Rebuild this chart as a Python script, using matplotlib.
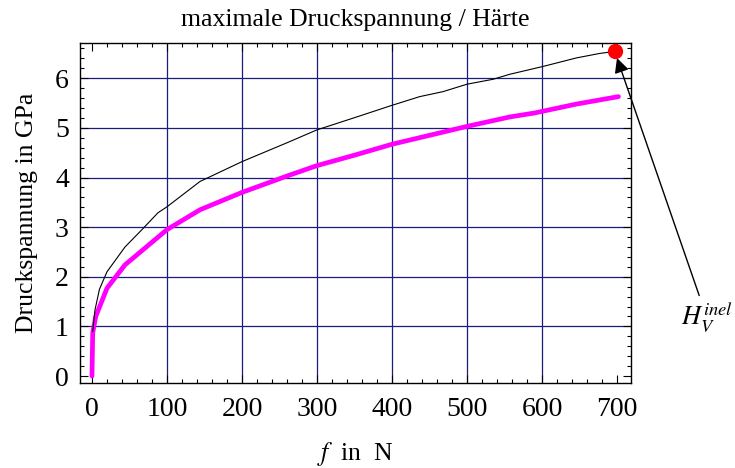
import matplotlib
matplotlib.use("Agg")
import matplotlib.pyplot as plt
from matplotlib.ticker import MultipleLocator

plt.rcParams['font.family'] = ['Liberation Serif', 'DejaVu Serif']
plt.rcParams['mathtext.fontset'] = 'stix'

# Daten
f_hart = [1, 4, 10, 20, 44, 66, 88, 100, 144, 200, 260, 300, 357, 397, 437,
          468, 500, 535, 557, 602, 646, 677, 697]
p_hart = [0.9, 1.33, 1.75, 2.1, 2.6, 2.94, 3.29, 3.41, 3.92, 4.32, 4.70, 4.96,
          5.24, 5.44, 5.63, 5.73, 5.88, 5.98, 6.08, 6.24, 6.41, 6.50, 6.54]

f_druck = [0, 1, 5, 20, 44, 100, 144, 200, 260, 300, 350, 400, 450, 500, 557,
           590, 646, 702]
p_druck = [0.0, 0.87, 1.2, 1.77, 2.24, 2.95, 3.35, 3.70, 4.03, 4.24, 4.45, 4.67,
           4.85, 5.03, 5.22, 5.30, 5.48, 5.63]

hv_f, hv_p = 697, 6.54
label_pos = (820, 1.17)

fig = plt.figure(figsize=(7.35, 4.68), dpi=100)
ax = fig.add_axes([0.1088, 0.1816, 0.7497, 0.7265])

grid_col = '#1c1c80'
for x in range(100, 700, 100):
    ax.axvline(x, color=grid_col, lw=0.9, zorder=1)
for y in range(1, 7):
    ax.axhline(y, color=grid_col, lw=0.9, zorder=1)

ax.plot(f_hart, p_hart, color='black', lw=0.8, zorder=3)
ax.plot(f_druck, p_druck, color='#ff00ff', lw=3.4, solid_capstyle='round', zorder=2)
ax.plot([hv_f], [hv_p], 'o', color='#ff0000', ms=10, zorder=4)

ax.annotate(r'$H_V^{inel}$', xy=(hv_f, hv_p), xytext=label_pos,
            fontsize=19, ha='center', va='center', annotation_clip=False,
            arrowprops=dict(arrowstyle='-|>', color='black', lw=1,
                            mutation_scale=22, shrinkA=2, shrinkB=5))

ax.set_xlim(-16, 718.7)
ax.set_ylim(-0.14, 6.71)
ax.xaxis.set_major_locator(MultipleLocator(100))
ax.xaxis.set_minor_locator(MultipleLocator(20))
ax.yaxis.set_major_locator(MultipleLocator(1))
ax.yaxis.set_minor_locator(MultipleLocator(0.2))
ax.tick_params(which='both', direction='in', top=True, right=True,
               labelsize=20, width=0.8)
ax.tick_params(which='major', length=6)
ax.tick_params(which='minor', length=3)
ax.tick_params(axis='x', pad=10)
ax.tick_params(axis='y', pad=8)
for s in ax.spines.values():
    s.set_linewidth(1)

ax.set_title('maximale Druckspannung / Härte', fontsize=18.5, pad=12)
ax.set_xlabel(r'$f$  in  N', fontsize=18.5, labelpad=13)
ax.set_ylabel('Druckspannung in GPa', fontsize=18.5, labelpad=12)

fig.savefig('out.png', dpi=100)
